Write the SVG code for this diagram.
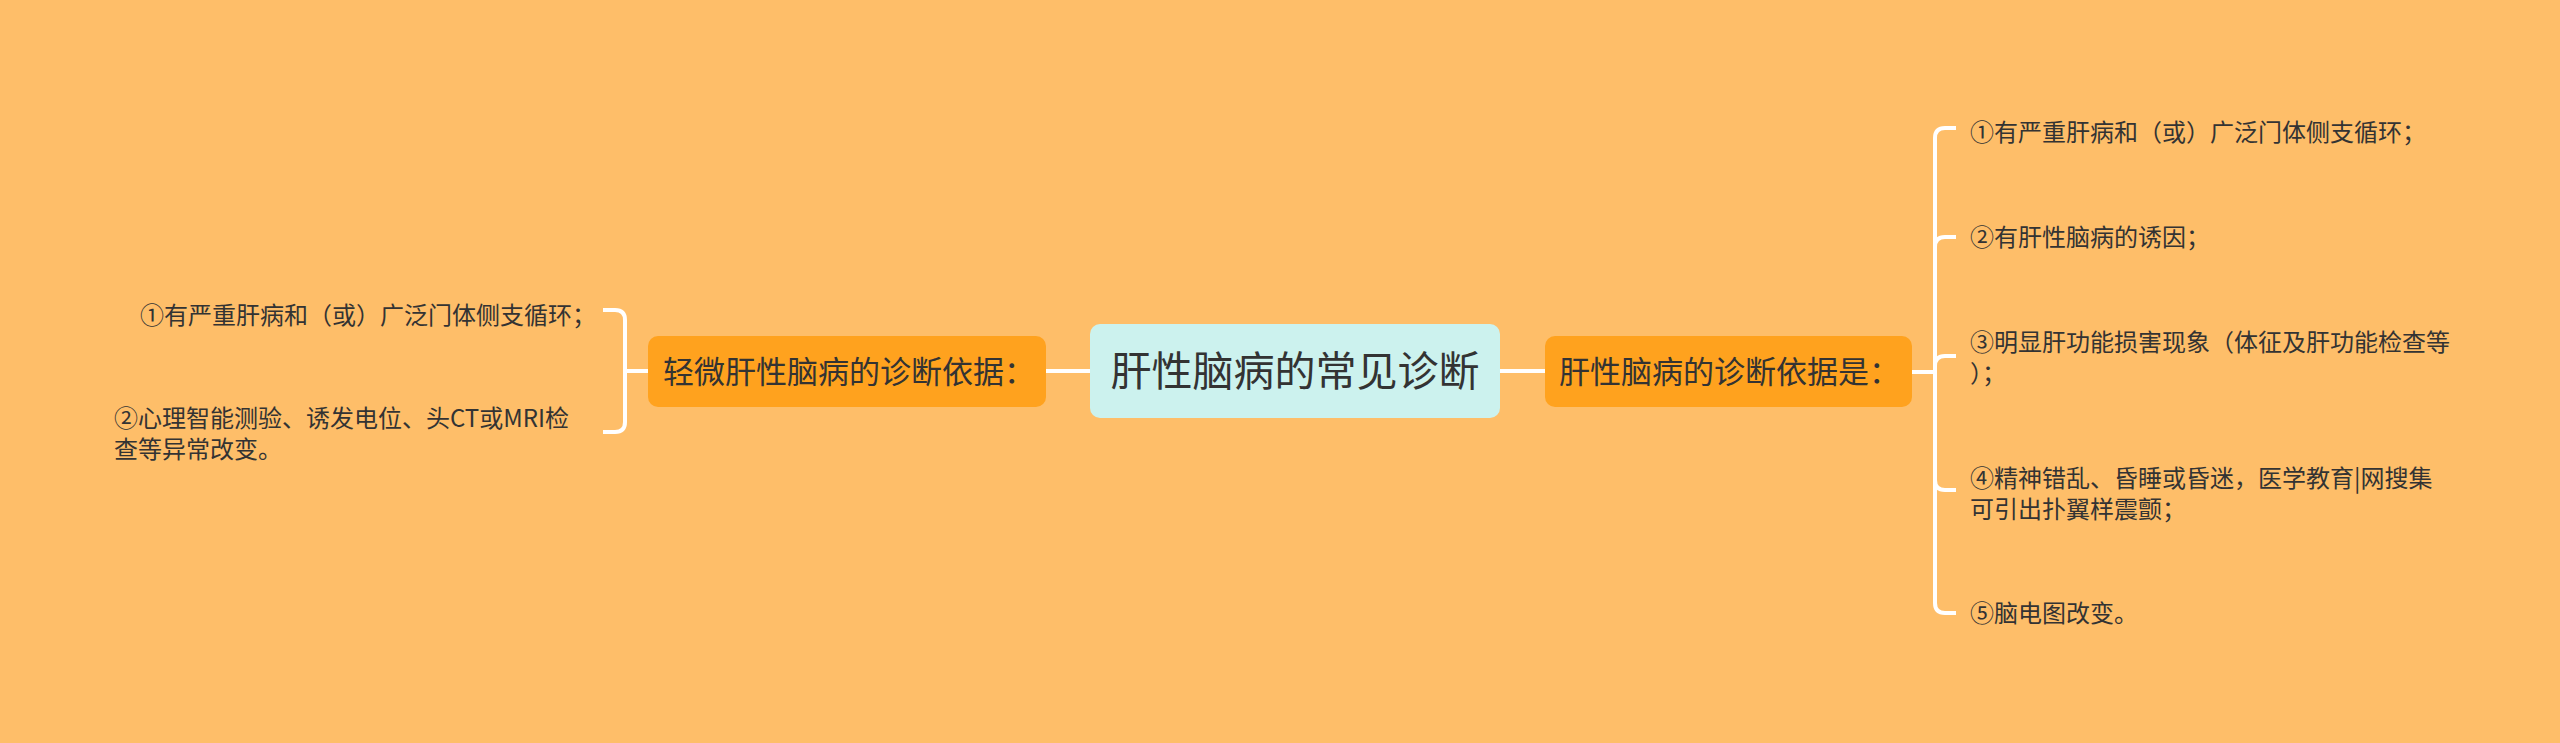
<svg xmlns="http://www.w3.org/2000/svg" width="2560" height="743" viewBox="0 0 2560 743">
<style>
.bg{fill:#FEBE69}
.conn{fill:none;stroke:#FFFFFF;stroke-width:4}
.t{font-family:"Noto Sans CJK SC","Liberation Sans",sans-serif;fill:#333333}
.leaf{font-size:24px}
.sub{fill:#FFA21E}
.root{fill:#CCF2EE}
</style>
<rect class="bg" x="0" y="0" width="2560" height="743"/>
<g id="connectors">
<path class="conn" d="M1046 371 H1090"/>
<path class="conn" d="M1500 371 H1545"/>
<path class="conn" d="M648 371 H625 V320 Q625 310 615 310 H603"/>
<path class="conn" d="M648 371 H625 V422 Q625 432 615 432 H603"/>
<path class="conn" d="M1912 372 H1935 V138 Q1935 128 1945 128 H1956"/>
<path class="conn" d="M1912 372 H1935 V247 Q1935 237 1945 237 H1956"/>
<path class="conn" d="M1912 372 H1935 V366 Q1935 356 1945 356 H1956"/>
<path class="conn" d="M1912 372 H1935 V480 Q1935 490 1945 490 H1956"/>
<path class="conn" d="M1912 372 H1935 V603 Q1935 613 1945 613 H1956"/>
</g>
<g id="root">
<rect class="root" x="1090" y="324" width="410" height="94" rx="10"/>
<text class="t" x="1295" y="386" font-size="41" text-anchor="middle">肝性脑病的常见诊断</text>
</g>
<g id="left-main">
<rect class="sub" x="648" y="336" width="398" height="71" rx="10"/>
<text class="t" x="663" y="383" font-size="31">轻微肝性脑病的诊断依据：</text>
</g>
<g id="right-main">
<rect class="sub" x="1545" y="336" width="367" height="71" rx="10"/>
<text class="t" x="1559" y="383" font-size="31">肝性脑病的诊断依据是：</text>
</g>
<g id="left-1">
<text class="t leaf" x="140" y="324">①有严重肝病和（或）广泛门体侧支循环；</text>
</g>
<g id="left-2">
<text class="t leaf" x="114" y="427">②心理智能测验、诱发电位、头CT或MRI检</text>
<text class="t leaf" x="114" y="458">查等异常改变。</text>
</g>
<g id="right-1">
<text class="t leaf" x="1970" y="141">①有严重肝病和（或）广泛门体侧支循环；</text>
</g>
<g id="right-2">
<text class="t leaf" x="1970" y="246">②有肝性脑病的诱因；</text>
</g>
<g id="right-3">
<text class="t leaf" x="1970" y="351">③明显肝功能损害现象（体征及肝功能检查等</text>
<text class="t leaf" x="1970" y="382">）；</text>
</g>
<g id="right-4">
<text class="t leaf" x="1970" y="487">④精神错乱、昏睡或昏迷，医学教育|网搜集</text>
<text class="t leaf" x="1970" y="518">可引出扑翼样震颤；</text>
</g>
<g id="right-5">
<text class="t leaf" x="1970" y="622">⑤脑电图改变。</text>
</g>
</svg>
